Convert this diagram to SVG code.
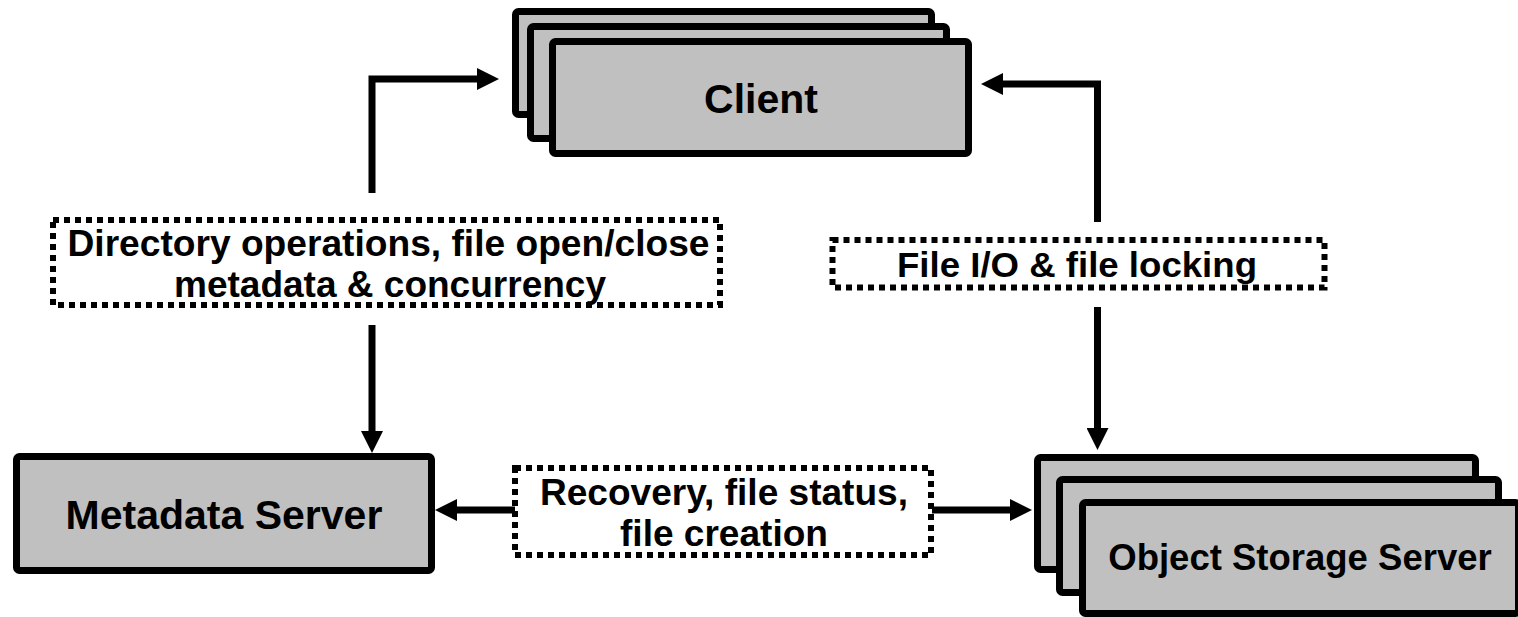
<svg xmlns="http://www.w3.org/2000/svg" width="1518" height="617" viewBox="0 0 1518 617">
<style>
.box{fill:#c0c0c0;stroke:#000;stroke-width:7;stroke-linejoin:round}
.lbl{fill:#fff;stroke:#000;stroke-width:6;stroke-dasharray:6 5}
.t{font-family:"Liberation Sans",Arial,sans-serif;font-weight:bold;fill:#000;text-anchor:middle}
.c{fill:none;stroke:#000;stroke-width:7}
</style>
<defs>
<marker id="ah" markerUnits="userSpaceOnUse" markerWidth="22" markerHeight="22" refX="0" refY="11" orient="auto" viewBox="0 0 22 22">
<path d="M0,0 L22,11 L0,22 z" fill="#000"/>
</marker>
</defs>
<rect width="1518" height="617" fill="#fff"/>
<g id="connectors">
<path class="c" d="M372,193 V79 H477" marker-end="url(#ah)"/>
<path class="c" d="M372,325 V431" marker-end="url(#ah)"/>
<path class="c" d="M1097.5,222 V84 H1003" marker-end="url(#ah)"/>
<path class="c" d="M1097.5,307 V428" marker-end="url(#ah)"/>
<path class="c" d="M516,510 H457" marker-end="url(#ah)"/>
<path class="c" d="M932,510 H1010" marker-end="url(#ah)"/>
</g>
<g id="client">
<rect class="box" x="515.5" y="11.5" width="416" height="103" rx="3"/>
<rect class="box" x="530.5" y="26.5" width="416" height="112" rx="3"/>
<rect class="box" x="552.5" y="41.5" width="416" height="112" rx="3"/>
<text class="t" x="761" y="113" font-size="41">Client</text>
</g>
<g id="metadata-server">
<rect class="box" x="16.5" y="456.5" width="415" height="114" rx="3"/>
<text class="t" x="224" y="529" font-size="41">Metadata Server</text>
</g>
<g id="object-storage-server">
<rect class="box" x="1037.5" y="457.5" width="438" height="112" rx="3"/>
<rect class="box" x="1059.5" y="479.5" width="439" height="113" rx="3"/>
<rect class="box" x="1082.5" y="502.5" width="436" height="111" rx="3"/>
<text class="t" x="1300" y="570" font-size="36.5">Object Storage Server</text>
</g>
<g id="label-directory">
<rect class="lbl" x="53" y="220" width="667" height="85"/>
<text class="t" x="388.5" y="256" font-size="36" textLength="642" lengthAdjust="spacingAndGlyphs">Directory operations, file open/close</text>
<text class="t" x="390" y="297" font-size="36" textLength="432" lengthAdjust="spacingAndGlyphs">metadata &amp; concurrency</text>
</g>
<g id="label-fileio">
<rect class="lbl" x="832.5" y="240" width="492" height="47.5"/>
<text class="t" x="1077" y="277" font-size="35" textLength="360" lengthAdjust="spacingAndGlyphs">File I/O &amp; file locking</text>
</g>
<g id="label-recovery">
<rect class="lbl" x="515" y="468" width="416" height="87"/>
<text class="t" x="724" y="505" font-size="36" textLength="368" lengthAdjust="spacingAndGlyphs">Recovery, file status,</text>
<text class="t" x="724" y="546" font-size="36" textLength="208" lengthAdjust="spacingAndGlyphs">file creation</text>
</g>
</svg>
